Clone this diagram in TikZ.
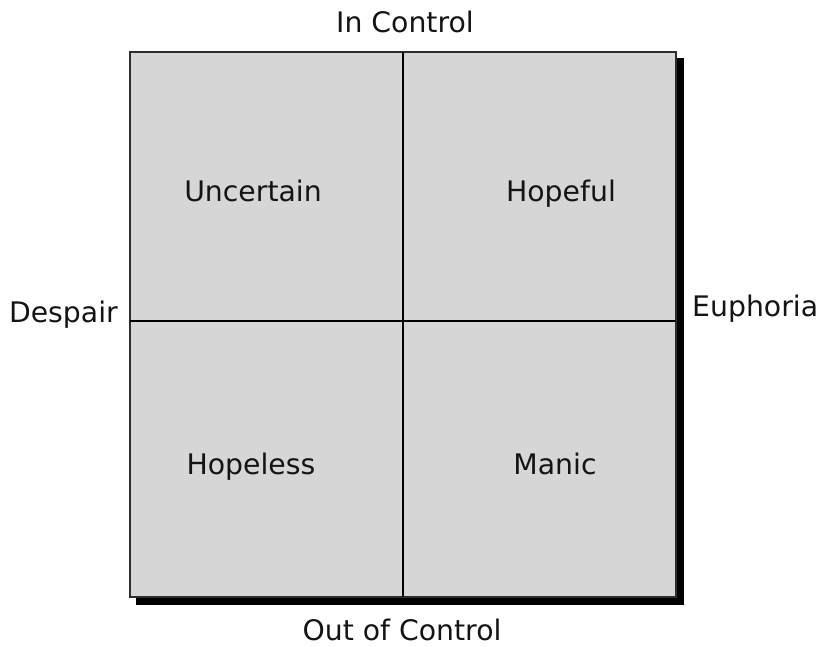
\documentclass[tikz,border=0pt]{standalone}
\usepackage{fontspec}
\setmainfont{DejaVu Sans}
\usetikzlibrary{positioning}
\definecolor{gridfill}{RGB}{214,214,214}
\definecolor{gridedge}{RGB}{45,45,45}
\definecolor{shadowcol}{RGB}{0,0,0}
\definecolor{labeltext}{RGB}{20,20,20}
\tikzset{
  axislabel/.style={font=\fontsize{28.3}{31}\selectfont, text=labeltext,
    inner sep=0pt, anchor=base},
  quadlabel/.style={font=\fontsize{28.3}{31}\selectfont, text=labeltext,
    inner sep=0pt, anchor=base},
  gridbox/.style={fill=gridfill, draw=gridedge, line width=1.5pt},
  shadowbox/.style={fill=shadowcol},
  divider/.style={draw=black, line width=1.3pt}
}

\begin{document}
\begin{tikzpicture}[x=1pt, y=-1pt]
  \useasboundingbox (0,0) rectangle (820,647);
  % box corners and divider ends
  \coordinate (nw) at (130,52);
  \coordinate (se) at (676,597);
  \coordinate (top) at (403,52);
  \coordinate (bot) at (403,597);
  \coordinate (lft) at (130,321);
  \coordinate (rgt) at (676,321);

  \fill[shadowbox] (136,58) rectangle (684,605);
  \draw[gridbox] (nw) rectangle (se);
  \draw[divider] (top) -- (bot);
  \draw[divider] (lft) -- (rgt);

  \node[axislabel] (inctl) at (405,33) {In Control};
  \node[axislabel] (outctl) at (402,640) {Out of Control};
  \node[axislabel, anchor=base east] (despair) at (118,323) {Despair};
  \node[axislabel, anchor=base west] (euphoria) at (692,317) {Euphoria};

  \node[quadlabel] (uncertain) at (253,202) {Uncertain};
  \node[quadlabel] (hopeful) at (561,202) {Hopeful};
  \node[quadlabel] (hopeless) at (251,474) {Hopeless};
  \node[quadlabel] (manic) at (555,474) {Manic};
\end{tikzpicture}
\end{document}
